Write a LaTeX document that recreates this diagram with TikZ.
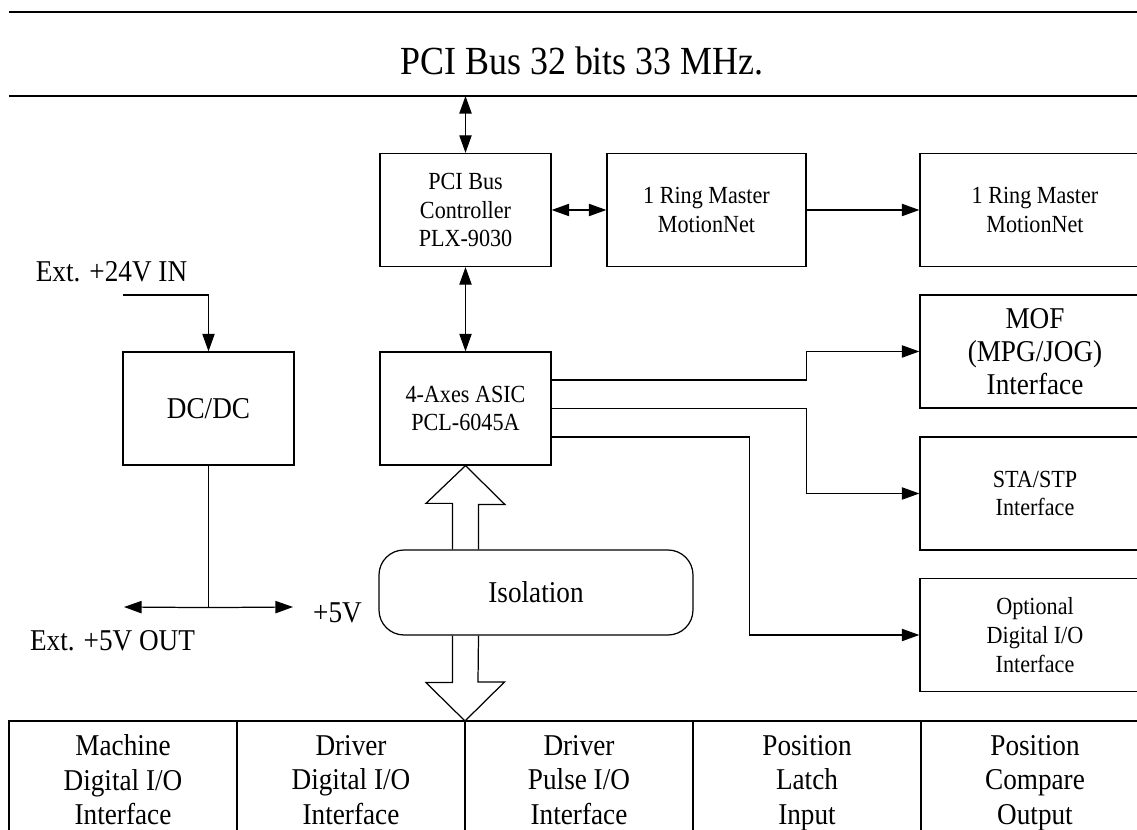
\documentclass[tikz,border=0pt]{standalone}
\usepackage{fontspec}
\setmainfont[FakeStretch=0.9]{Liberation Serif}
\usepackage{tikz}
\usetikzlibrary{arrows.meta,positioning,calc}

\begin{document}
\begin{tikzpicture}[>={Triangle[length=10pt,width=7pt]}, line width=0.7pt,
  every node/.style={font=\fontsize{17.2}{19.6}\selectfont},
  small/.style={font=\fontsize{14}{16.3}\selectfont},
  blk/.style={draw, minimum width=3.42cm, minimum height=2.26cm, align=center, inner sep=0pt},
  side/.style={blk, minimum width=4.6cm},
  cell/.style={draw, minimum width=4.56cm, minimum height=2.56cm, align=center, inner sep=0pt, outer sep=0pt,
    execute at begin node=\strut, execute at end node=\strut}]
\useasboundingbox (0,0) rectangle (22.74,16.6);
% PCI bus
\draw (0.18,16.36) -- (22.74,16.36);
\draw (0.18,14.68) coordinate (busL) -- (22.74,14.68);
\node[font=\fontsize{22.7}{26}\selectfont] (bus) at (11.64,15.38) {PCI Bus 32 bits 33 MHz.};
% boxes
\node[blk,small] (ctrl) at (9.31,12.4) {PCI Bus\\Controller\\PLX-9030};
\node[blk,small,minimum width=3.98cm] (ring1) at (14.13,12.4) {1 Ring Master\\MotionNet};
\node[side,small] (ring2) at (20.7,12.4) {1 Ring Master\\MotionNet};
\node[blk,small] (asic) at (9.31,8.43) {4-Axes ASIC\\PCL-6045A};
\node[side,font=\fontsize{17.2}{18.7}\selectfont] (mof) at (20.7,9.57) {MOF\\(MPG/JOG)\\Interface};
\node[side,small] (sta) at (20.7,6.73) {STA/STP\\Interface};
\node[side,small] (opt) at (20.7,3.9) {Optional\\Digital I/O\\Interface};
\node[blk] (dcdc) at (4.17,8.43) {DC/DC};
\node[draw, rounded corners=0.5cm, minimum width=6.28cm, minimum height=1.7cm] (iso) at (10.72,4.75) {Isolation};
% power labels
\node (in24) at (2.23,11.16) {Ext. +24V IN};
\node (out5) at (2.25,3.78) {Ext. +5V OUT};
\node (p5) at (6.75,4.34) {+5V};
\coordinate (inA) at (2.46,10.7);
\coordinate (outA) at (2.48,4.46);
\coordinate (p5A) at (5.86,4.46);
% interface row
\node[cell] (c1) at (2.46,0.9) {Machine\\Digital I/O\\Interface};
\node[cell, right=0pt of c1] (c2) {Driver\\Digital I/O\\Interface};
\node[cell, right=0pt of c2] (c3) {Driver\\Pulse I/O\\Interface};
\node[cell, right=0pt of c3] (c4) {Position\\Latch\\Input};
\node[cell, right=0pt of c4] (c5) {Position\\Compare\\Output};
% connectors
\draw[<->] (ctrl.north |- busL) -- (ctrl.north);
\draw[<->] (ctrl.east) -- (ring1.west);
\draw[->] (ring1.east) -- (ring2.west);
\draw[<->] (ctrl.south) -- (asic.north);
\draw[->] ($(asic.east)+(0,0.57)$) -- ++(5.1,0) |- (mof.west);
\draw[->] (asic.east) -- ++(5.1,0) |- (sta.west);
\draw[->] ($(asic.east)+(0,-0.57)$) -- ++(3.96,0) |- (opt.west);
\draw[->] (inA) -| (dcdc.north);
\draw (dcdc.south) -- ++(0,-2.84) coordinate (jn);
\draw[->] (jn) -- (outA);
\draw[->] (jn) -- (p5A);
% hollow bus arrows
\path (asic.south) ++(-0.26,0) coordinate (sl) ++(0.52,0) coordinate (sr);
\draw (sl |- iso.north) -- ++(0,0.92) -- ++(-0.53,0) -- (asic.south) -- ++(0.79,-0.78) -- ++(-0.53,0) -- (sr |- iso.north);
\draw (sl |- iso.south) -- ++(0,-0.94) -- ++(-0.53,0) -- (c3.north west) -- ++(0.79,0.78) -- ++(-0.53,0) -- (sr |- iso.south);
\end{tikzpicture}
\end{document}
